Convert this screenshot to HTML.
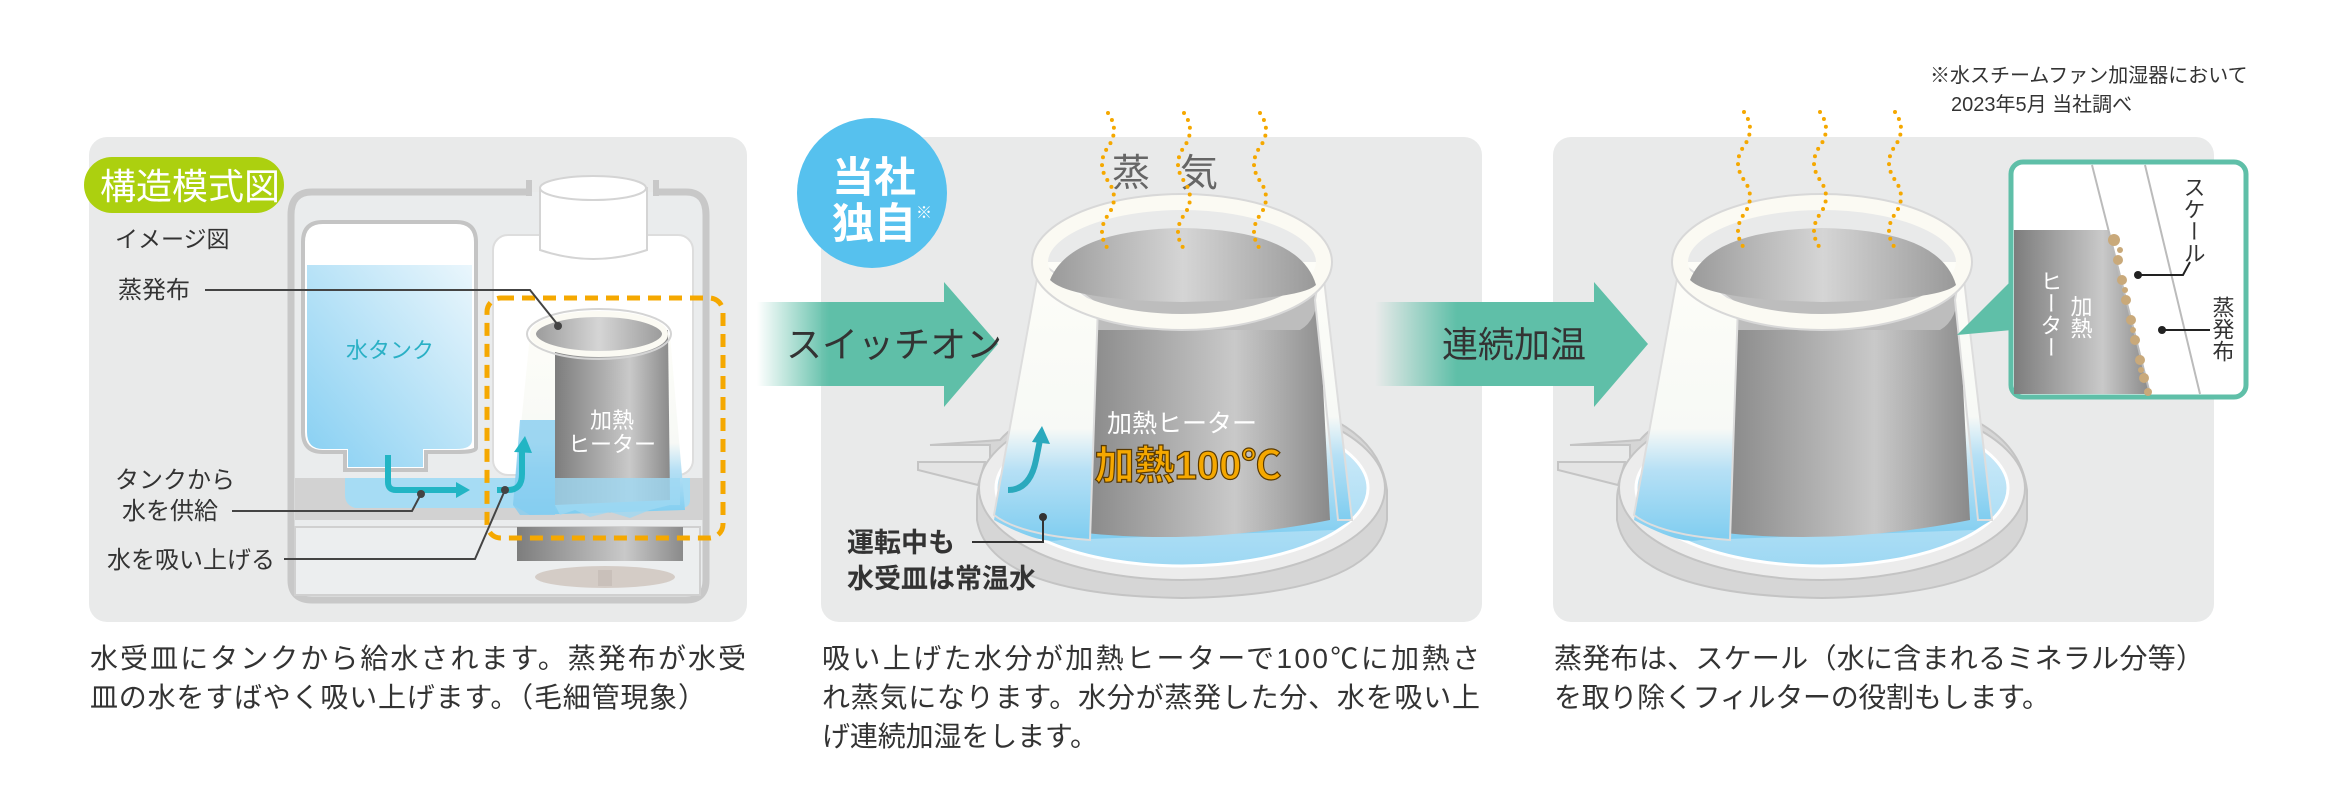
<!DOCTYPE html>
<html><head><meta charset="utf-8"><style>
html,body{margin:0;padding:0;background:#fff;}
svg{display:block;}
text{font-family:"Liberation Sans","Noto Sans CJK JP",sans-serif;}
</style></head><body>
<svg width="2340" height="806" viewBox="0 0 2340 806" xmlns="http://www.w3.org/2000/svg">
<defs>
 <linearGradient id="water" x1="0" y1="1" x2="1" y2="0"><stop offset="0" stop-color="#86cff2"/><stop offset="1" stop-color="#eaf6fc"/></linearGradient>
 <linearGradient id="metal" x1="0" y1="0" x2="1" y2="0"><stop offset="0" stop-color="#7d7d7d"/><stop offset="0.65" stop-color="#c9c9c9"/><stop offset="1" stop-color="#8a8a8a"/></linearGradient>
 <linearGradient id="metalTop" x1="0" y1="0" x2="1" y2="0"><stop offset="0" stop-color="#9a9a9a"/><stop offset="0.5" stop-color="#d5d5d5"/><stop offset="1" stop-color="#999"/></linearGradient>
 <linearGradient id="cloth" x1="0" y1="0" x2="0" y2="1"><stop offset="0" stop-color="#fdfdf8"/><stop offset="0.6" stop-color="#f7f9f6"/><stop offset="0.75" stop-color="#b6e0f5"/><stop offset="1" stop-color="#7fcdf0"/></linearGradient>
 <linearGradient id="arrowG" x1="0" y1="0" x2="1" y2="0"><stop offset="0" stop-color="#5fbfa8" stop-opacity="0"/><stop offset="0.3" stop-color="#5fbfa8"/><stop offset="1" stop-color="#5fbfa8"/></linearGradient>
 <linearGradient id="trayW" x1="0" y1="0" x2="0" y2="1"><stop offset="0" stop-color="#d7eefa"/><stop offset="1" stop-color="#9ed8f3"/></linearGradient>
 <g id="unit">
  <path d="M930 445 H990 L990 472 Q977 480 977 500 L977 520 Q990 595 1182 598 Q1375 595 1387 520 L1387 490 Q1375 395 1182 392 Q1040 394 1000 440 Z" fill="#d6d6d6" stroke="#c4c4c4" stroke-width="2"/>
  <path d="M918 462 H985 L978 485 L918 470 Z" fill="#e4e4e4" stroke="#c4c4c4" stroke-width="2"/>
  <ellipse cx="1182" cy="488" rx="203" ry="92" fill="#ececec" stroke="#c4c4c4" stroke-width="2"/>
  <ellipse cx="1182" cy="488" rx="186" ry="78" fill="url(#trayW)" stroke="#fff" stroke-width="3"/>
  <path d="M1040 262 L994 520 Q1040 545 1060 540 L1335 530 L1352 520 L1322 262 Z" fill="url(#cloth)"/>
  <path d="M1058 290 L1060 530 Q1190 548 1330 520 L1318 290 Z" fill="url(#metal)"/>
  <path d="M1058 290 Q1060 330 1098 330 L1300 330 Q1318 320 1318 290 Z" fill="#bdbdbd"/>
  <path d="M1040 262 L994 515 Q1020 535 1090 540 L1098 305 Z" fill="url(#cloth)" stroke="#ddd" stroke-width="2"/>
  <path d="M1322 262 L1352 520 L1338 520 L1315 300 Z" fill="url(#cloth)" stroke="#ddd" stroke-width="2"/>
  <ellipse cx="1182" cy="262" rx="142" ry="60" fill="none" stroke="#fbfaf3" stroke-width="16"/>
  <ellipse cx="1182" cy="262" rx="150" ry="68" fill="none" stroke="#d8d8d8" stroke-width="2"/>
  <path d="M1050 280 Q1070 230 1182 228 Q1300 230 1316 285 Q1300 300 1182 302 Q1070 300 1050 280 Z" fill="url(#metalTop)"/>
 </g>
</defs>

<rect x="89" y="137" width="658" height="485" rx="18" fill="#e9eaea"/>
<rect x="821" y="137" width="661" height="485" rx="18" fill="#e9eaea"/>
<rect x="1553" y="137" width="661" height="485" rx="18" fill="#e9eaea"/>

<text x="1930" y="82" font-size="20" fill="#333">※水スチームファン加湿器において</text>
<text x="1951" y="111" font-size="20" fill="#333">2023年5月 当社調べ</text>

<!-- Panel 1 -->
<rect x="84" y="157" width="200" height="56" rx="28" fill="#acd00f"/>
<text x="100" y="199" font-size="36" fill="#fff">構造模式図</text>
<text x="115" y="247" font-size="23" fill="#333">イメージ図</text>
<text x="118" y="298" font-size="24" fill="#333">蒸発布</text>
<text x="115" y="488" font-size="24" fill="#333">タンクから</text>
<text x="122" y="519" font-size="24" fill="#333">水を供給</text>
<text x="107" y="568" font-size="24" fill="#333">水を吸い上げる</text>

<path d="M532 192 H312 Q291 192 291 215 V580 Q291 600 312 600 H686 Q706 600 706 580 V215 Q706 192 686 192 H653" fill="#eaeced" stroke="#c8c8c8" stroke-width="7"/>
<rect x="526" y="180" width="6" height="16" fill="#c8c8c8"/><rect x="653" y="180" width="6" height="16" fill="#c8c8c8"/>
<rect x="493" y="235" width="200" height="240" rx="15" fill="#fff" stroke="#ddd" stroke-width="2"/>
<path d="M540 188 V250 Q593 268 647 250 V188 Z" fill="#fff" stroke="#d4d4d4" stroke-width="2"/>
<ellipse cx="593" cy="188" rx="53" ry="12" fill="#fff" stroke="#d4d4d4" stroke-width="2"/>
<rect x="295" y="478" width="408" height="42" fill="#d2d2d2"/>
<path d="M345 478 H690 V500 Q690 508 680 508 H355 Q345 505 345 495 Z" fill="#a6dcf4"/>
<rect x="295" y="527" width="405" height="68" fill="#eceeef" stroke="#d0d0d0" stroke-width="2"/>
<rect x="517" y="527" width="166" height="34" fill="url(#metal)"/>
<ellipse cx="605" cy="577" rx="70" ry="11" fill="#d4ccc6"/>
<rect x="598" y="570" width="14" height="16" fill="#c9c0ba"/>
<path d="M323 222 H456 Q476 222 476 242 V448 Q476 452 456 452 H426 V470 H345 V452 H323 Q303 452 303 432 V242 Q303 222 323 222 Z" fill="#fff" stroke="#c4c4c4" stroke-width="4"/>
<path d="M307 265 H472 V440 Q472 449 456 449 H423 V467 H348 V449 H323 Q307 449 307 432 Z" fill="url(#water)"/>
<text x="390" y="358" font-size="22" fill="#2ab0c5" text-anchor="middle">水タンク</text>
<path d="M530 335 L513 505 L530 515 L685 510 L670 335 Z" fill="url(#cloth)"/>
<path d="M555 330 L555 505 L670 500 L668 330 Z" fill="url(#metal)"/>
<path d="M520 420 L513 505 L520 515 L555 515 L555 420 Z" fill="#86cdf0" opacity="0.8"/>
<path d="M555 505 L560 515 L575 510 L590 517 L610 512 L630 518 L650 510 L670 505 L680 505 L680 478 L555 478 Z" fill="#9fd8f3" opacity="0.8"/>
<ellipse cx="599" cy="334" rx="66" ry="20" fill="url(#metalTop)" stroke="#fbfaf3" stroke-width="6"/>
<ellipse cx="599" cy="334" rx="72" ry="25" fill="none" stroke="#d4d4d4" stroke-width="2"/>
<text x="612" y="428" font-size="22" fill="#fff" text-anchor="middle">加熱</text>
<text x="612" y="452" font-size="22" fill="#fff" text-anchor="middle">ヒーター</text>
<rect x="487" y="298" width="236" height="240" rx="14" fill="none" stroke="#f5a800" stroke-width="5" stroke-dasharray="13 8"/>
<path d="M388 455 V482 Q388 490 396 490 H458" fill="none" stroke="#22b5c4" stroke-width="6"/>
<path d="M456 482 L470 490 L456 498 Z" fill="#22b5c4"/>
<path d="M497 490 H508 Q522 490 522 474 V450" fill="none" stroke="#22b5c4" stroke-width="6"/>
<path d="M514 452 L525 436 L532 453 Z" fill="#22b5c4"/>
<g stroke="#444" stroke-width="2" fill="none">
 <path d="M205 290 H530 L558 325"/>
 <path d="M232 511 H412 L421 494"/>
 <path d="M284 559 H475 L505 490"/>
</g>
<circle cx="558" cy="326" r="4" fill="#444"/><circle cx="421" cy="494" r="4" fill="#444"/><circle cx="505" cy="490" r="4" fill="#444"/>

<text x="90" y="668" font-size="28" fill="#333" textLength="656">水受皿にタンクから給水されます。蒸発布が水受</text>
<text x="90" y="707" font-size="28" fill="#333" textLength="616">皿の水をすばやく吸い上げます。（毛細管現象）</text>

<path d="M757 302 H944 V282 L998 344 L944 407 V386 H757 Z" fill="url(#arrowG)"/>
<text x="786" y="357" font-size="36" fill="#333">スイッチオン</text>
<path d="M1375 302 H1594 V282 L1648 344 L1594 407 V386 H1375 Z" fill="url(#arrowG)"/>
<text x="1442" y="357" font-size="36" fill="#333">連続加温</text>

<!-- Panel 2 -->
<use href="#unit"/>
<text x="1180" y="186" font-size="38" fill="#666" text-anchor="middle" letter-spacing="30">蒸気</text>
<g fill="none" stroke="#f5a800" stroke-width="4" stroke-linecap="round" stroke-dasharray="0 8">
 <path d="M1108 113 q 12 17 0 34 t 0 34 t 0 34 t 0 34"/>
 <path d="M1184 113 q 12 17 0 34 t 0 34 t 0 34 t 0 34"/>
 <path d="M1260 113 q 12 17 0 34 t 0 34 t 0 34 t 0 34"/>
</g>
<path d="M1008 490 Q1030 490 1036 460 L1040 440" fill="none" stroke="#2aa9bd" stroke-width="6"/>
<path d="M1032 442 L1042 426 L1050 444 Z" fill="#2aa9bd"/>
<text x="1182" y="432" font-size="25" fill="#fff" text-anchor="middle">加熱ヒーター</text>
<text x="1188" y="479" font-size="40" font-weight="bold" fill="#f5a800" stroke="#5a3a00" stroke-width="1.2" text-anchor="middle">加熱100℃</text>
<circle cx="872" cy="193" r="75" fill="#56c1ee"/>
<text x="832" y="192" font-size="42" font-weight="bold" fill="#fff">当社</text>
<text x="832" y="238" font-size="42" font-weight="bold" fill="#fff">独自</text>
<text x="916" y="218" font-size="16" fill="#fff">※</text>
<text x="847" y="552" font-size="27" font-weight="bold" fill="#333">運転中も</text>
<text x="847" y="588" font-size="27" font-weight="bold" fill="#333">水受皿は常温水</text>
<path d="M972 542 H1043 V517" fill="none" stroke="#333" stroke-width="2"/>
<circle cx="1043" cy="517" r="4" fill="#333"/>
<text x="822" y="668" font-size="28" fill="#333" textLength="658">吸い上げた水分が加熱ヒーターで100℃に加熱さ</text>
<text x="822" y="707" font-size="28" fill="#333" textLength="658">れ蒸気になります。水分が蒸発した分、水を吸い上</text>
<text x="822" y="746" font-size="28" fill="#333" textLength="276">げ連続加湿をします。</text>

<!-- Panel 3 -->
<use href="#unit" x="640"/>
<g fill="none" stroke="#f5a800" stroke-width="4" stroke-linecap="round" stroke-dasharray="0 8">
 <path d="M1744 112 q 12 17 0 34 t 0 34 t 0 34 t 0 34"/>
 <path d="M1820 112 q 12 17 0 34 t 0 34 t 0 34 t 0 34"/>
 <path d="M1895 112 q 12 17 0 34 t 0 34 t 0 34 t 0 34"/>
</g>
<path d="M2012 280 L1957 335 L2012 330 Z" fill="#5fbfa8"/>
<rect x="2011" y="162" width="235" height="235" rx="12" fill="#fff" stroke="#5fbfa8" stroke-width="5"/>
<path d="M2014 230 H2108 L2150 394 H2014 Z" fill="url(#metal)"/>
<path d="M2092 165 L2150 394 M2145 165 L2200 394" stroke="#bbb" stroke-width="2" fill="none"/>
<g fill="#c9a97a">
 <circle cx="2114" cy="240" r="6"/><circle cx="2118" cy="260" r="5"/><circle cx="2122" cy="280" r="5"/><circle cx="2126" cy="300" r="5"/><circle cx="2131" cy="320" r="5"/><circle cx="2135" cy="340" r="5"/><circle cx="2140" cy="360" r="5"/><circle cx="2144" cy="378" r="5"/><circle cx="2148" cy="392" r="4"/>
 <circle cx="2120" cy="250" r="3"/><circle cx="2125" cy="290" r="3"/><circle cx="2133" cy="330" r="3"/><circle cx="2141" cy="370" r="3"/>
</g>
<text x="2193" y="176" font-size="22" fill="#333" writing-mode="tb">スケール</text>
<path d="M2138 275 H2183 L2190 262" stroke="#222" stroke-width="2" fill="none"/><circle cx="2138" cy="275" r="4" fill="#222"/>
<text x="2222" y="296" font-size="22" fill="#333" writing-mode="tb">蒸発布</text>
<path d="M2162 330 H2210" stroke="#222" stroke-width="2"/><circle cx="2162" cy="330" r="4" fill="#222"/>
<text x="2080" y="295" font-size="22" fill="#fff" writing-mode="tb">加熱</text>
<text x="2050" y="270" font-size="22" fill="#fff" writing-mode="tb">ヒーター</text>
<text x="1554" y="668" font-size="28" fill="#333" textLength="650">蒸発布は、スケール（水に含まれるミネラル分等）</text>
<text x="1554" y="707" font-size="28" fill="#333" textLength="496">を取り除くフィルターの役割もします。</text>
</svg>
</body></html>
